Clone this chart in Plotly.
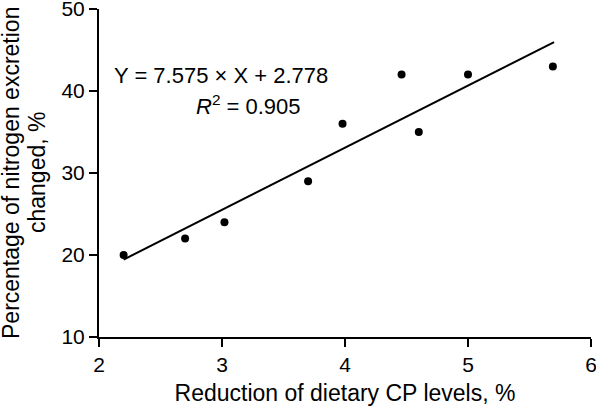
import plotly.graph_objects as go

x_vals = [2.2, 2.7, 3.02, 3.7, 3.98, 4.46, 4.6, 5.0, 5.69]
y_vals = [20, 22, 24, 29, 36, 42, 35, 42, 43]
slope = 7.575
intercept = 2.778
fit_x = [2.2, 5.7]
fit_y = [slope * v + intercept for v in fit_x]
x_ticks = [2, 3, 4, 5, 6]
y_ticks = [10, 20, 30, 40, 50]
y_title_lines = ["Percentage of nitrogen excretion", "changed, %"]

font = "Arial, Liberation Sans, sans-serif"

fig = go.Figure()
fig.add_trace(go.Scatter(x=fit_x, y=fit_y, mode="lines",
                         line=dict(color="black", width=2), showlegend=False))
fig.add_trace(go.Scatter(x=x_vals, y=y_vals, mode="markers",
                         marker=dict(color="black", size=8), showlegend=False))

fig.add_annotation(x=2.106, y=41.85, xref="x", yref="y", xanchor="left", yanchor="middle",
                   text="Y = 7.575 × X + 2.778", showarrow=False,
                   font=dict(family=font, size=22, color="black"))
fig.add_annotation(x=2.77, y=38.25, xref="x", yref="y", xanchor="left", yanchor="middle",
                   text="<i>R</i><sup>2</sup> = 0.905", showarrow=False,
                   font=dict(family=font, size=22, color="black"))

# y-axis title as two rotated lines (tighter line spacing than the built-in title)
for line, shift in zip(y_title_lines, [-88, -62]):
    fig.add_annotation(x=0, y=0.5, xref="paper", yref="paper", xanchor="center",
                       yanchor="middle", xshift=shift, textangle=-90, text=line,
                       showarrow=False, font=dict(family=font, size=23, color="black"))

axis_common = dict(showline=True, linecolor="black", linewidth=2, ticks="outside",
                   ticklen=8, tickwidth=2, tickcolor="black", showgrid=False, zeroline=False,
                   ticklabeloverflow="allow", automargin=False,
                   tickfont=dict(family=font, size=21, color="black"),
                   title_font=dict(family=font, size=23, color="black"))

fig.update_xaxes(range=[2, 6], tickvals=x_ticks, title_text="Reduction of dietary CP levels, %",
                 title_standoff=10, **axis_common)
fig.update_yaxes(range=[10, 50], tickvals=y_ticks, **axis_common)

fig.update_layout(width=596, height=407, margin=dict(l=99, r=5, t=9, b=70),
                  plot_bgcolor="white", paper_bgcolor="white",
                  font=dict(family=font, color="black"))

fig.write_html("out.html", config={"displayModeBar": False},
               post_script="document.body.style.margin='0';")
